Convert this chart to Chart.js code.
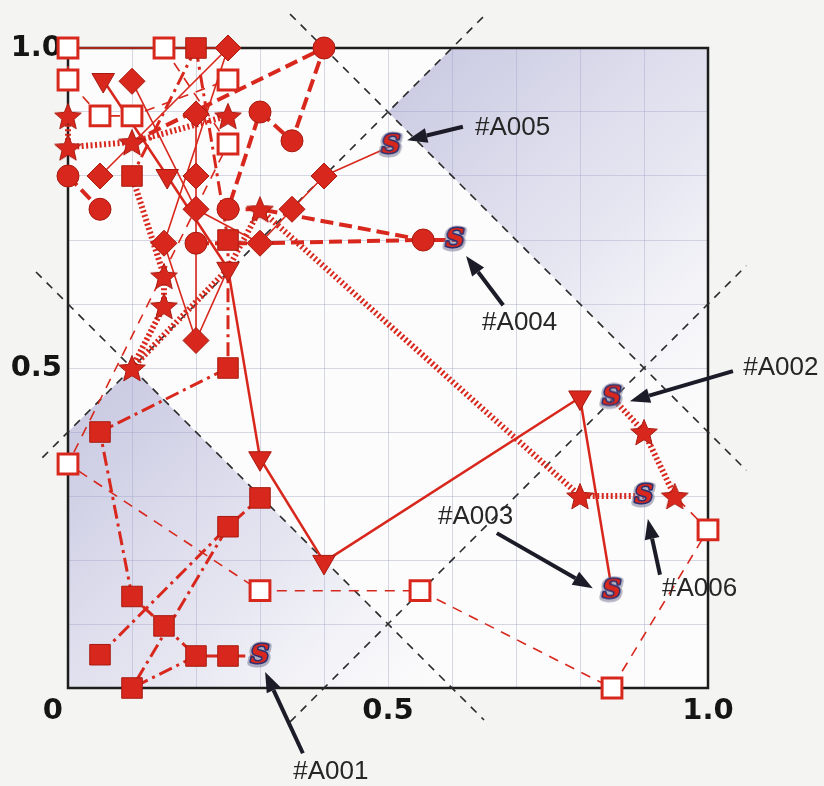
<!DOCTYPE html>
<html>
<head>
<meta charset="utf-8">
<script src="https://cdn.jsdelivr.net/npm/chart.js@4.4.1/dist/chart.umd.min.js"></script>
<style>
  html, body { margin: 0; padding: 0; background: #f4f4f2; }
  #wrap { width: 824px; height: 786px; }
</style>
</head>
<body>
<div id="wrap"><canvas id="chart"></canvas></div>
<script>
/* ================= DATA ================= */

// tick labels
const xTickLabels = { 0: '0\u00a0\u00a0\u00a0', 0.5: '0.5', 1: '1.0' };
const yTickLabels = { 0.5: '0.5', 1: '1.0' };

// marker positions per symbol
const sqX   = [0.2, 0.1, 0.25, 0.25, 0.05, 0.1, 0.15, 0.05, 0.1, 0.2, 0.25, 0.25, 0.3];
const sqY   = [1.0, 0.8, 0.7, 0.5, 0.4, 0.143, 0.097, 0.052, 0.0, 0.05, 0.05, 0.252, 0.297];
const openX = [0.0, 0.15, 0.0, 0.05, 0.1, 0.25, 0.25, 0.0, 0.3, 0.55, 0.85, 1.0];
const openY = [1.0, 1.0, 0.95, 0.894, 0.894, 0.95, 0.85, 0.35, 0.152, 0.152, 0.0, 0.247];
const triX  = [0.055, 0.155, 0.25, 0.3, 0.4, 0.8];
const triY  = [0.95, 0.8, 0.655, 0.359, 0.197, 0.454];
const starX = [0.0, 0.0, 0.1, 0.25, 0.3, 0.15, 0.15, 0.1, 0.8, 0.9, 0.948];
const starY = [0.894, 0.845, 0.853, 0.894, 0.748, 0.644, 0.597, 0.5, 0.3, 0.4, 0.3];
const diaX  = [0.25, 0.1, 0.2, 0.05, 0.2, 0.2, 0.15, 0.3, 0.35, 0.4, 0.2];
const diaY  = [1.0, 0.948, 0.897, 0.8, 0.8, 0.748, 0.695, 0.695, 0.748, 0.8, 0.543];
const circX = [0.0, 0.05, 0.4, 0.3, 0.35, 0.25, 0.2, 0.555];
const circY = [0.8, 0.748, 1.0, 0.9, 0.855, 0.748, 0.695, 0.7];

// end points ("S") #A001..#A006
const endNames = ['#A001', '#A002', '#A003', '#A004', '#A005', '#A006'];
const endX = [0.3, 0.85, 0.85, 0.605, 0.505, 0.9];
const endY = [0.05, 0.454, 0.152, 0.7, 0.847, 0.3];

// trajectories: filled squares, dash-dot
const a1X = [0.2, 0.25, 0.25, 0.05, 0.1, 0.15, 0.2, 0.25, 0.3];
const a1Y = [1.0, 0.7, 0.5, 0.4, 0.143, 0.097, 0.05, 0.05, 0.05];
const a2X = [0.2, 0.1];
const a2Y = [1.0, 0.8];
const a3X = [0.05, 0.25, 0.3];
const a3Y = [0.052, 0.252, 0.297];
const a4X = [0.2, 0.1, 0.25];
const a4Y = [0.05, 0.0, 0.252];

// open squares, thin dashed
const o1X = [0.0, 0.0, 0.05, 0.1, 0.25];
const o1Y = [1.0, 0.95, 0.894, 0.894, 0.95];
const o2X = [0.15, 0.25, 0.0, 0.3, 0.55, 0.85, 1.0, 0.948];
const o2Y = [1.0, 0.85, 0.35, 0.152, 0.152, 0.0, 0.247, 0.3];

// triangles, solid
const t1X = [0.055, 0.155, 0.25, 0.3, 0.4, 0.8, 0.85];
const t1Y = [0.95, 0.8, 0.655, 0.359, 0.197, 0.454, 0.152];

// stars, heavy dotted
const s1X = [0.0, 0.0, 0.1, 0.25];
const s1Y = [0.894, 0.845, 0.853, 0.894];
const s2X = [0.1, 0.15, 0.15, 0.1];
const s2Y = [0.5, 0.597, 0.644, 0.8];
const s3X = [0.1, 0.25, 0.3, 0.8, 0.9];
const s3Y = [0.5, 0.655, 0.748, 0.3, 0.3];
const s4X = [0.948, 0.9, 0.85];
const s4Y = [0.3, 0.4, 0.454];

// diamonds, thin solid
const d0X = [0.0, 0.25];
const d0Y = [1.0, 1.0];
const d1X = [0.1, 0.2, 0.3, 0.35, 0.4, 0.505];
const d1Y = [0.948, 0.748, 0.695, 0.748, 0.8, 0.847];
const d2X = [0.05, 0.25, 0.15, 0.2, 0.25];
const d2Y = [0.8, 1.0, 0.695, 0.543, 0.655];
const d3X = [0.2, 0.2, 0.2];
const d3Y = [0.897, 0.8, 0.543];

// circles, heavy dashed
const c1X = [0.0, 0.05];
const c1Y = [0.8, 0.748];
const c2X = [0.1, 0.4, 0.35, 0.3, 0.25, 0.3, 0.555, 0.605];
const c2Y = [0.853, 1.0, 0.855, 0.9, 0.748, 0.748, 0.7, 0.7];
const c3X = [0.2, 0.3, 0.555];
const c3Y = [0.695, 0.695, 0.7];

// dashed guide lines (x+y = 0.6 / 1.4, y-x = +-0.4)
const g1X = [0.347, 1.06];
const g1Y = [1.053, 0.34];
const g2X = [-0.04, 0.65];
const g2Y = [0.36, 1.05];
const g3X = [-0.05, 0.65];
const g3Y = [0.65, -0.05];
const g4X = [0.347, 1.06];
const g4Y = [-0.053, 0.66];

/* ================= STYLE ================= */

const RED = '#d8281d';
const DARK = '#a8190f';

const callouts = [
  { text: '#A001', at: [0.352, -0.131], from: [0.367, -0.102], to: [0.308, 0.025] },
  { text: '#A002', at: [1.055, 0.5],    from: [1.039, 0.495],  to: [0.878, 0.448] },
  { text: '#A003', at: [0.578, 0.267],  from: [0.670, 0.242],  to: [0.820, 0.156] },
  { text: '#A004', at: [0.647, 0.570],  from: [0.680, 0.598],  to: [0.622, 0.675] },
  { text: '#A005', at: [0.636, 0.875],  from: [0.617, 0.877],  to: [0.530, 0.856] },
  { text: '#A006', at: [0.928, 0.155],  from: [0.925, 0.177],  to: [0.906, 0.264] }
];

const shades = [
  { poly: [[0.6, 1.0], [0.5, 0.9], [1.0, 0.4], [1.0, 1.0]], from: [0.55, 0.95], to: [1.0, 0.45] },
  { poly: [[0.0, 0.4], [0.1, 0.5], [0.6, 0.0], [0.0, 0.0]], from: [0.05, 0.42], to: [0.5, -0.05] }
];

function makeStar(r) {
  const c = document.createElement('canvas');
  const s = Math.ceil(r * 2 + 4);
  c.width = s; c.height = s;
  const g = c.getContext('2d');
  g.translate(s / 2, s / 2 + 1.5);
  g.beginPath();
  for (let i = 0; i < 10; i++) {
    const rr = i % 2 ? r * 0.45 : r;
    const ang = -Math.PI / 2 + i * Math.PI / 5;
    g.lineTo(Math.cos(ang) * rr, Math.sin(ang) * rr);
  }
  g.closePath();
  g.fillStyle = RED; g.fill();
  g.strokeStyle = DARK; g.lineWidth = 1; g.stroke();
  return c;
}

function makeS() {
  const c = document.createElement('canvas');
  c.width = 28; c.height = 30;
  const g = c.getContext('2d');
  g.font = 'italic bold 26px "DejaVu Serif"';
  g.textAlign = 'center';
  g.textBaseline = 'middle';
  g.lineJoin = 'round';
  g.strokeStyle = 'rgba(120,120,150,0.55)'; g.lineWidth = 7; g.strokeText('S', 14, 16);
  g.strokeStyle = '#2b2f70'; g.lineWidth = 3; g.strokeText('S', 14, 15);
  g.fillStyle = RED; g.fillText('S', 14, 15);
  return c;
}

const pts = (xs, ys) => xs.map((x, i) => ({ x, y: ys[i] }));

function path(xs, ys, width, dash) {
  return {
    data: pts(xs, ys), showLine: true, pointRadius: 0, borderColor: RED,
    borderWidth: width, borderDash: dash, borderJoinStyle: 'round', order: 2, clip: false
  };
}
function guide(xs, ys) {
  return {
    data: pts(xs, ys), showLine: true, pointRadius: 0, borderColor: '#2a2a2a',
    borderWidth: 1.6, borderDash: [8, 7], order: 3, clip: false
  };
}
function marks(xs, ys, style) {
  return Object.assign({ data: pts(xs, ys), showLine: false, order: 1, clip: false }, style);
}

const DASHDOT = [14, 5, 3, 5];
const THIN = [10, 8];
const HATCH = [2, 2.5];
const DASH = [13, 6];

const datasets = [
  guide(g1X, g1Y), guide(g2X, g2Y), guide(g3X, g3Y), guide(g4X, g4Y),

  path(a1X, a1Y, 3, DASHDOT), path(a2X, a2Y, 3, DASHDOT),
  path(a3X, a3Y, 3, DASHDOT), path(a4X, a4Y, 3, DASHDOT),
  path(o1X, o1Y, 1.6, THIN), path(o2X, o2Y, 1.6, THIN),
  path(t1X, t1Y, 2.5, []),
  path(s1X, s1Y, 6, HATCH), path(s2X, s2Y, 6, HATCH),
  path(s3X, s3Y, 6, HATCH), path(s4X, s4Y, 6, HATCH),
  path(d0X, d0Y, 1.6, []), path(d1X, d1Y, 1.6, []),
  path(d2X, d2Y, 1.6, []), path(d3X, d3Y, 1.6, []),
  path(c1X, c1Y, 4, DASH), path(c2X, c2Y, 4, DASH), path(c3X, c3Y, 4, DASH),

  marks(sqX, sqY, { pointStyle: 'rect', pointRadius: 14.5, backgroundColor: RED, borderColor: DARK, borderWidth: 1 }),
  marks(openX, openY, { pointStyle: 'rect', pointRadius: 14, backgroundColor: '#ffffff', borderColor: RED, borderWidth: 3 }),
  marks(triX, triY, { pointStyle: 'triangle', rotation: 180, pointRadius: 13, backgroundColor: RED, borderColor: DARK, borderWidth: 1 }),
  marks(starX, starY, { pointStyle: makeStar(14) }),
  marks(diaX, diaY, { pointStyle: 'rectRot', pointRadius: 13, backgroundColor: RED, borderColor: DARK, borderWidth: 1 }),
  marks(circX, circY, { pointStyle: 'circle', pointRadius: 11, backgroundColor: RED, borderColor: DARK, borderWidth: 1 }),
  Object.assign(marks(endX, endY, { pointStyle: makeS() }), { order: 0 })
];

/* ================= DECORATION PLUGIN ================= */

const decor = {
  id: 'decor',
  beforeDraw(chart) {
    const { ctx, chartArea: a } = chart;
    ctx.save();
    ctx.fillStyle = '#f4f4f2';
    ctx.fillRect(0, 0, chart.width, chart.height);
    ctx.fillStyle = '#fcfcfc';
    ctx.fillRect(a.left, a.top, a.right - a.left, a.bottom - a.top);
    ctx.restore();
  },
  beforeDatasetsDraw(chart) {
    const { ctx, chartArea: a, scales: { x, y } } = chart;
    const px = v => x.getPixelForValue(v);
    const py = v => y.getPixelForValue(v);
    ctx.save();
    ctx.beginPath();
    ctx.rect(a.left, a.top, a.right - a.left, a.bottom - a.top);
    ctx.clip();
    shades.forEach(s => {
      const grad = ctx.createLinearGradient(px(s.from[0]), py(s.from[1]), px(s.to[0]), py(s.to[1]));
      grad.addColorStop(0, 'rgba(160,160,205,0.52)');
      grad.addColorStop(0.55, 'rgba(175,175,215,0.28)');
      grad.addColorStop(1, 'rgba(200,200,230,0.02)');
      ctx.fillStyle = grad;
      ctx.beginPath();
      s.poly.forEach(([vx, vy], i) => i ? ctx.lineTo(px(vx), py(vy)) : ctx.moveTo(px(vx), py(vy)));
      ctx.closePath();
      ctx.fill();
    });
    ctx.restore();

    ctx.save();
    ctx.strokeStyle = '#1d1d1d';
    ctx.lineWidth = 2.5;
    ctx.strokeRect(a.left, a.top, a.right - a.left, a.bottom - a.top);
    ctx.restore();
  },
  afterDatasetsDraw(chart) {
    const { ctx, scales: { x, y } } = chart;
    ctx.save();
    callouts.forEach(c => {
      const x0 = x.getPixelForValue(c.from[0]), y0 = y.getPixelForValue(c.from[1]);
      const x1 = x.getPixelForValue(c.to[0]), y1 = y.getPixelForValue(c.to[1]);
      const ang = Math.atan2(y1 - y0, x1 - x0);
      const head = 20, half = 7.5;
      const bx = x1 - Math.cos(ang) * head, by = y1 - Math.sin(ang) * head;
      ctx.strokeStyle = '#1c1c28';
      ctx.fillStyle = '#1c1c28';
      ctx.lineWidth = 4;
      ctx.beginPath();
      ctx.moveTo(x0, y0);
      ctx.lineTo(bx, by);
      ctx.stroke();
      ctx.beginPath();
      ctx.moveTo(x1, y1);
      ctx.lineTo(bx + Math.sin(ang) * half, by - Math.cos(ang) * half);
      ctx.lineTo(bx - Math.sin(ang) * half, by + Math.cos(ang) * half);
      ctx.closePath();
      ctx.fill();

      ctx.font = '26px "Liberation Sans", Arial, sans-serif';
      ctx.fillStyle = '#262626';
      ctx.textAlign = 'left';
      ctx.textBaseline = 'middle';
      ctx.fillText(c.text, x.getPixelForValue(c.at[0]), y.getPixelForValue(c.at[1]));
    });
    ctx.restore();
  }
};

/* ================= CHART ================= */

function pick(map, v) {
  for (const k in map) if (Math.abs(+k - v) < 1e-6) return map[k];
  return '';
}

const tickFont = { family: '"DejaVu Sans", sans-serif', size: 29, weight: 'bold' };
const GRID = 'rgba(150,155,190,0.38)';

new Chart(document.getElementById('chart'), {
  type: 'scatter',
  data: { datasets },
  options: {
    responsive: true,
    maintainAspectRatio: false,
    animation: false,
    layout: { padding: { top: 48, right: 116, left: 0, bottom: 0 } },
    plugins: { legend: { display: false }, tooltip: { enabled: false } },
    scales: {
      x: {
        type: 'linear', min: 0, max: 1,
        afterFit(scale) { scale.height = 98; },
        grid: { color: GRID, lineWidth: 1, drawTicks: false },
        border: { display: false },
        ticks: { stepSize: 0.1, autoSkip: false, maxRotation: 0, padding: 6, color: '#151515', font: tickFont,
                 callback: v => pick(xTickLabels, v) }
      },
      y: {
        type: 'linear', min: 0, max: 1,
        afterFit(scale) { scale.width = 68; },
        grid: { color: GRID, lineWidth: 1, drawTicks: false },
        border: { display: false },
        ticks: { stepSize: 0.1, autoSkip: false, padding: 6, color: '#151515', font: tickFont,
                 callback: v => pick(yTickLabels, v) }
      }
    }
  },
  plugins: [decor]
});
</script>
</body>
</html>
